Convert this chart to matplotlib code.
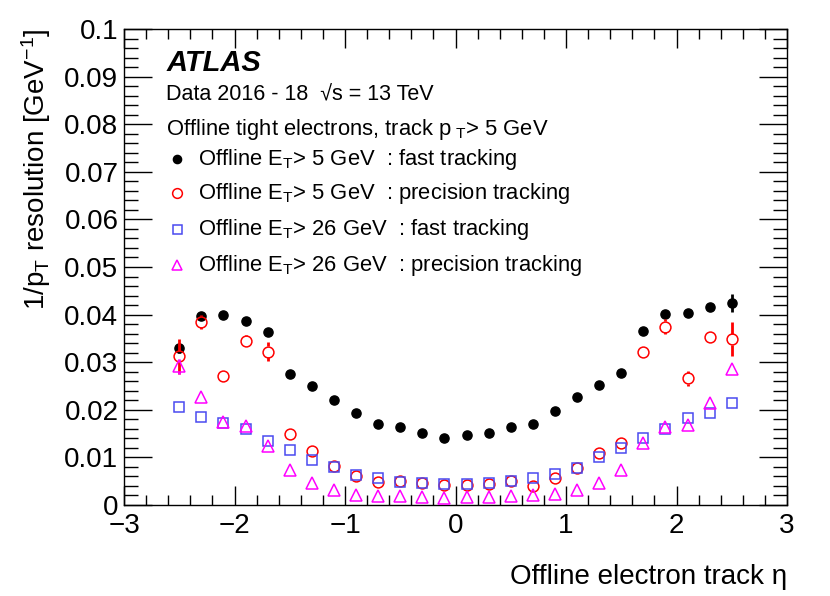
import numpy as np
import matplotlib
matplotlib.use("Agg")
import matplotlib.pyplot as plt
from matplotlib.ticker import MultipleLocator

plt.rcParams['font.family'] = ['Liberation Sans', 'DejaVu Sans']
plt.rcParams['mathtext.fontset'] = 'custom'
plt.rcParams['mathtext.rm'] = 'Liberation Sans'
plt.rcParams['mathtext.it'] = 'Liberation Sans:italic'
plt.rcParams['mathtext.bf'] = 'Liberation Sans:bold'

eta = [-2.5, -2.3, -2.1, -1.9, -1.7, -1.5, -1.3, -1.1, -0.9, -0.7, -0.5, -0.3, -0.1,
       0.1, 0.3, 0.5, 0.7, 0.9, 1.1, 1.3, 1.5, 1.7, 1.9, 2.1, 2.3, 2.5]

et5_fast = [0.0330, 0.0398, 0.0399, 0.0387, 0.0364, 0.0276, 0.0250, 0.0220, 0.0194, 0.0170, 0.0164, 0.0151, 0.0140,
            0.0147, 0.0151, 0.0163, 0.0170, 0.0197, 0.0227, 0.0253, 0.0277, 0.0365, 0.0401, 0.0404, 0.0417, 0.0425]
et5_fast_err = [0.0010, 0.0006, 0.0003, 0.0003, 0.0004, 0.0002, 0.0002, 0.0002, 0.0002, 0.0002, 0.0002, 0.0002, 0.0002,
                0.0002, 0.0002, 0.0002, 0.0002, 0.0002, 0.0002, 0.0002, 0.0002, 0.0004, 0.0008, 0.0004, 0.0004, 0.0019]

et5_prec = [0.0312, 0.0385, 0.0272, 0.0344, 0.0322, 0.0149, 0.0114, 0.0081, 0.0061, 0.0048, 0.0050, 0.0046, 0.0043,
            0.0043, 0.0044, 0.0050, 0.0039, 0.0056, 0.0077, 0.0109, 0.0130, 0.0322, 0.0375, 0.0266, 0.0352, 0.0348]
et5_prec_err = [0.0036, 0.0015, 0.0004, 0.0013, 0.0020, 0.0003, 0.0003, 0.0002, 0.0002, 0.0002, 0.0002, 0.0002, 0.0002,
                0.0002, 0.0002, 0.0002, 0.0002, 0.0002, 0.0002, 0.0002, 0.0003, 0.0005, 0.0015, 0.0015, 0.0005, 0.0036]

et26_fast = [0.0206, 0.0185, 0.0173, 0.0160, 0.0135, 0.0116, 0.0095, 0.0079, 0.0062, 0.0056, 0.0049, 0.0046, 0.0044,
             0.0044, 0.0047, 0.0051, 0.0056, 0.0065, 0.0078, 0.0100, 0.0119, 0.0140, 0.0159, 0.0182, 0.0194, 0.0215]
et26_fast_err = [0.0004, 0.0003, 0.0002, 0.0002, 0.0002, 0.0002, 0.0001, 0.0001, 0.0001, 0.0001, 0.0001, 0.0001, 0.0001,
                 0.0001, 0.0001, 0.0001, 0.0001, 0.0001, 0.0001, 0.0001, 0.0002, 0.0002, 0.0002, 0.0002, 0.0003, 0.0004]

et26_prec = [0.0291, 0.0227, 0.0175, 0.0166, 0.0123, 0.0073, 0.0046, 0.0031, 0.0022, 0.0018, 0.0018, 0.0016, 0.0015,
             0.0016, 0.0016, 0.0018, 0.0020, 0.0023, 0.0031, 0.0047, 0.0074, 0.0130, 0.0164, 0.0168, 0.0215, 0.0286]
et26_prec_err = [0.0015, 0.0004, 0.0003, 0.0003, 0.0003, 0.0002, 0.0001, 0.0001, 0.0001, 0.0001, 0.0001, 0.0001, 0.0001,
                 0.0001, 0.0001, 0.0001, 0.0001, 0.0001, 0.0001, 0.0001, 0.0002, 0.0003, 0.0003, 0.0003, 0.0004, 0.0006]

labels = [r"Offline E$_\mathrm{T}$> 5 GeV  : fast tracking",
          r"Offline E$_\mathrm{T}$> 5 GeV  : precision tracking",
          r"Offline E$_\mathrm{T}$> 26 GeV  : fast tracking",
          r"Offline E$_\mathrm{T}$> 26 GeV  : precision tracking"]

fig = plt.figure(figsize=(8.3, 5.96), dpi=100)
ax_h_px = 505 - 29
ax = fig.add_axes([124/830, 1-505/596, (787-124)/830, ax_h_px/596])

styles = [
    dict(y=et5_fast, e=et5_fast_err, marker='o', ms=6.6, mfc='black', mec='black', c='black', mew=1.0),
    dict(y=et5_prec, e=et5_prec_err, marker='o', ms=7.8, mfc='none', mec='#ff0000', c='#ff0000', mew=1.1),
    dict(y=et26_fast, e=et26_fast_err, marker='s', ms=7.2, mfc='none', mec='#4a4af0', c='#4a4af0', mew=1.1),
    dict(y=et26_prec, e=et26_prec_err, marker='^', ms=8.2, mfc='none', mec='#ff00ff', c='#ff00ff', mew=1.1),
]

ymax = 0.1
data_per_px = ymax / ax_h_px

order = [0, 3, 2, 1]
for i in order:
    s = styles[i]
    y = np.asarray(s['y'])
    e = np.asarray(s['e'])
    x = np.asarray(eta)
    r = s['ms'] * 100 / 72 / 2 * data_per_px   # marker radius in data units
    m = e > r
    if s['mfc'] == 'none':
        # ROOT-like: error bars drawn only outside the open marker
        ax.vlines(x[m], y[m] + r, y[m] + e[m], colors=s['c'], linewidth=2.0, zorder=2 + i)
        ax.vlines(x[m], y[m] - e[m], y[m] - r, colors=s['c'], linewidth=2.0, zorder=2 + i)
    else:
        ax.vlines(x[m], y[m] - e[m], y[m] + e[m], colors=s['c'], linewidth=2.0, zorder=2 + i)
    ax.plot(x, y, linestyle='none', marker=s['marker'], markersize=s['ms'],
            markerfacecolor=s['mfc'], markeredgecolor=s['mec'], markeredgewidth=s['mew'], zorder=3 + i)

ax.set_xlim(-3, 3)
ax.set_ylim(0, ymax)
ax.xaxis.set_major_locator(MultipleLocator(1))
ax.xaxis.set_minor_locator(MultipleLocator(0.2))
ax.yaxis.set_major_locator(MultipleLocator(0.01))
ax.yaxis.set_minor_locator(MultipleLocator(0.002))
ax.tick_params(which='both', direction='in', top=True, right=True, labelsize=20, width=1.0, colors='black')
ax.tick_params(axis='x', which='major', length=14, pad=6)
ax.tick_params(axis='x', which='minor', length=7)
ax.tick_params(axis='y', which='major', length=20, pad=4)
ax.tick_params(axis='y', which='minor', length=10)

yt = [0, 0.01, 0.02, 0.03, 0.04, 0.05, 0.06, 0.07, 0.08, 0.09, 0.1]
ax.set_yticks(yt)
ax.set_yticklabels(['0', '0.01', '0.02', '0.03', '0.04', '0.05', '0.06', '0.07', '0.08', '0.09', '0.1'])
ax.set_xticks([-3, -2, -1, 0, 1, 2, 3])
ax.set_xticklabels(['\u22123', '\u22122', '\u22121', '0', '1', '2', '3'])
for sp in ax.spines.values():
    sp.set_linewidth(1.0)

ax.set_xlabel('Offline electron track \u03b7', fontsize=20, loc='right', labelpad=18)
ax.set_ylabel(r'1/p$_\mathrm{T}$ resolution [GeV$^{-1}$]', fontsize=20, loc='top', labelpad=8)

tf = ax.transAxes
def fx(px):
    return (px - 124) / (787 - 124)
def fy(py):
    return (505 - py) / (505 - 29)

ax.text(fx(167), fy(63), 'ATLAS', fontsize=21, fontweight='bold', fontstyle='italic',
        transform=tf, va='center', ha='left')
ax.text(fx(166), fy(95), 'Data 2016 - 18  \u221as = 13 TeV', fontsize=15.5,
        transform=tf, va='center', ha='left')
ax.text(fx(166), fy(129), r'Offline tight electrons, track p$_{\ \mathrm{T}}$> 5 GeV', fontsize=15.8,
        transform=tf, va='center', ha='left')

leg_y = [159, 193, 229, 265]
for i, s in enumerate(styles):
    ax.plot([fx(177)], [fy(leg_y[i])], transform=tf, linestyle='none', marker=s['marker'],
            markersize=s['ms'] * 0.9, markerfacecolor=s['mfc'], markeredgecolor=s['mec'],
            markeredgewidth=s['mew'], clip_on=False)
    ax.text(fx(198), fy(leg_y[i]), labels[i], fontsize=15.8, transform=tf, va='center', ha='left')

fig.savefig('out.png', dpi=100)
